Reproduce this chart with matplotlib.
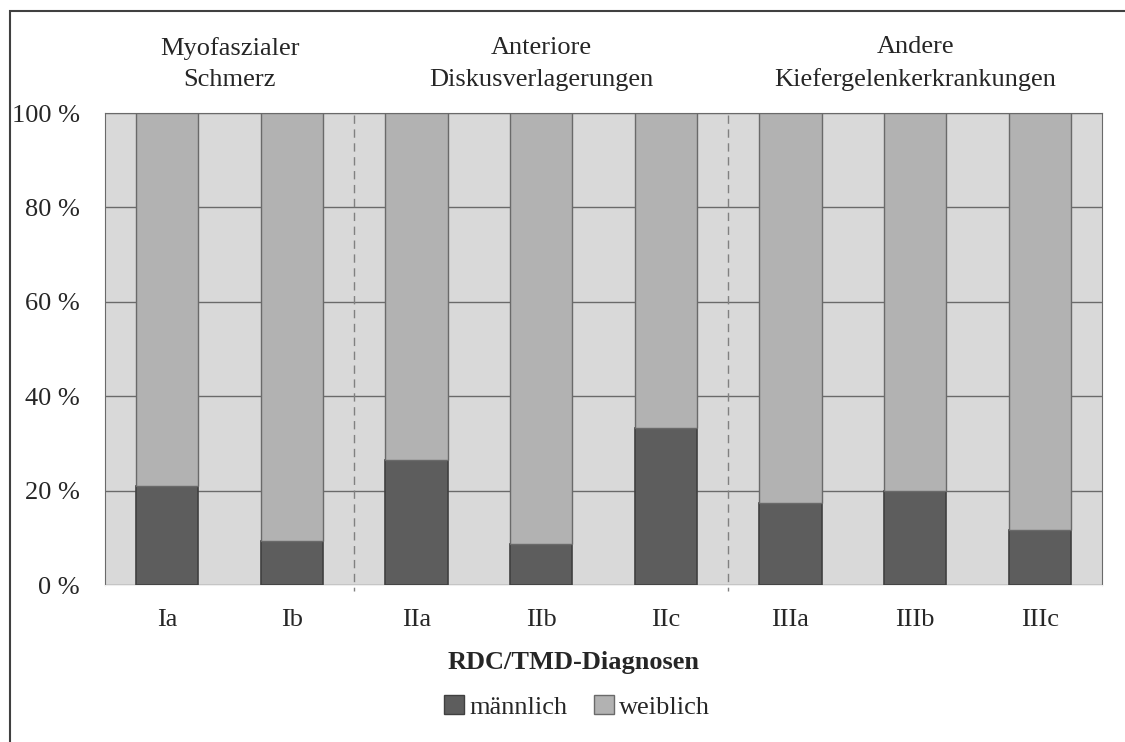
import matplotlib
matplotlib.use('Agg')
import matplotlib.pyplot as plt
import numpy as np
from matplotlib.patches import Patch, Rectangle

# data (percent male per diagnosis)
categories = ['Ia', 'Ib', 'IIa', 'IIb', 'IIc', 'IIIa', 'IIIb', 'IIIc']
maennlich = [21.0, 9.4, 26.5, 8.7, 33.3, 17.3, 20.0, 11.7]
weiblich = [100 - v for v in maennlich]
group_labels = ['Myofaszialer\nSchmerz', 'Anteriore\nDiskusverlagerungen', 'Andere\nKiefergelenkerkrankungen']
group_members = [(0, 1), (2, 4), (5, 7)]
yticks = [0, 20, 40, 60, 80, 100]

plt.rcParams['font.family'] = ['Liberation Serif', 'DejaVu Serif']
FS = 19

fig = plt.figure(figsize=(11.25, 7.42), dpi=100)
ax = fig.add_axes([105 / 1125, 1 - 585 / 742, 997 / 1125, 472 / 742])

# outer frame (cut off at right and bottom like the reference)
fig.patches.append(Rectangle((10 / 1125, -0.1), 1.2, 1 - 11 / 742 + 0.1, transform=fig.transFigure,
                             fill=False, edgecolor='#404040', linewidth=1.5))

x = np.arange(len(categories))
ax.set_facecolor('#d9d9d9')
ax.bar(x, maennlich, width=0.5, color='#5d5d5d', edgecolor='#404040', linewidth=1.2, zorder=3)
ax.bar(x, weiblich, width=0.5, bottom=maennlich, color='#b2b2b2', edgecolor='#6a6a6a', linewidth=1.0, zorder=3)

ax.set_xlim(-0.5, len(categories) - 0.5)
ax.set_ylim(0, 100)
ax.set_yticks(yticks)
ax.set_yticklabels([f'{v} %' for v in yticks], fontsize=FS, color='#262626')
ax.set_xticks(x)
ax.set_xticklabels(categories, fontsize=FS, color='#262626')
ax.tick_params(length=0, axis='y', pad=18)
ax.tick_params(length=0, axis='x', pad=17)
ax.yaxis.grid(True, color='#6a6a6a', linewidth=1.0, zorder=1)
ax.set_axisbelow(True)
for side in ['left', 'right', 'top']:
    ax.spines[side].set_color('#6a6a6a')
ax.spines['bottom'].set_color('#eeeeee')

# dashed group separators
for sep in [1.5, 4.5]:
    ax.plot([sep, sep], [99.5, -1.2], linestyle=(0, (6, 4)), color='#808080', linewidth=1.0,
            clip_on=False, zorder=2)

# group headers
for label, (a, b) in zip(group_labels, group_members):
    ax.text((a + b) / 2, 110.4, label, ha='center', va='center', fontsize=FS,
            color='#262626', linespacing=1.55)

fig.text(574 / 1125, 1 - 663 / 742, 'RDC/TMD-Diagnosen', ha='center', va='center',
         fontsize=FS, fontweight='bold', color='#262626')

legend_elements = [
    Patch(facecolor='#5d5d5d', edgecolor='#404040', label='männlich'),
    Patch(facecolor='#b2b2b2', edgecolor='#6a6a6a', label='weiblich'),
]
fig.legend(handles=legend_elements, loc='center', bbox_to_anchor=(577 / 1125, 1 - 707 / 742),
           ncol=2, frameon=False, fontsize=FS, handlelength=0.75, handleheight=0.75,
           handletextpad=0.2, columnspacing=1.0, labelcolor='#262626')

fig.savefig('out.png', dpi=100)
